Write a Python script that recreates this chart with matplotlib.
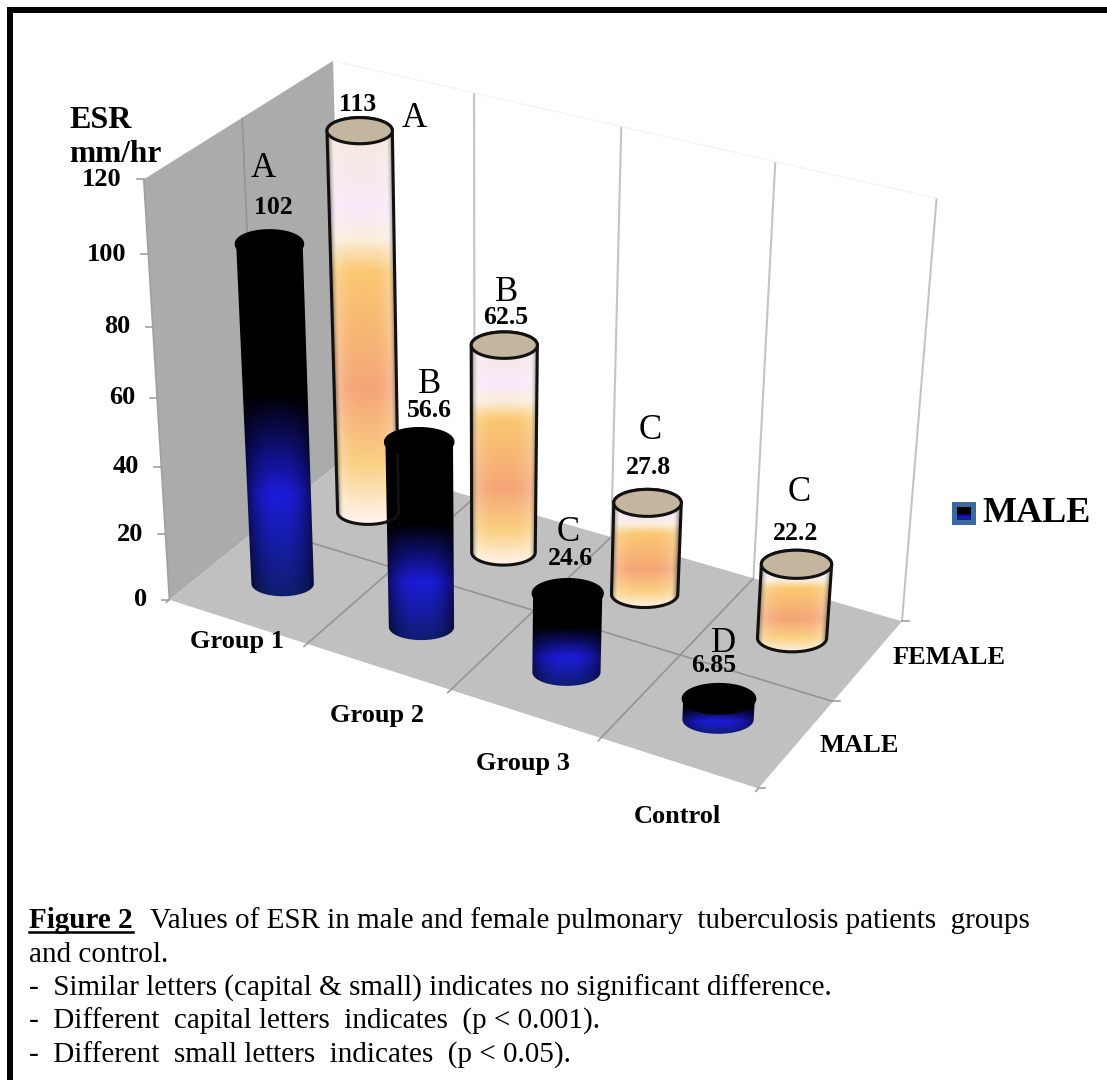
import numpy as np
import matplotlib
matplotlib.use('Agg')
import matplotlib.pyplot as plt
from matplotlib.path import Path
from matplotlib.patches import PathPatch, Polygon, Rectangle

plt.rcParams['font.family'] = ['Liberation Serif', 'DejaVu Serif']

## data

groups = ['Group 1', 'Group 2', 'Group 3', 'Control']
series = ['MALE', 'FEMALE']
male = [102, 56.6, 24.6, 6.85]
female = [113, 62.5, 27.8, 22.2]
male_labels = ['102', '56.6', '24.6', '6.85']
female_labels = ['113', '62.5', '27.8', '22.2']
male_letters = ['A', 'B', 'C', 'D']
female_letters = ['A', 'B', 'C', 'C']
yticks = [0, 20, 40, 60, 80, 100, 120]
notes = ['and control.',
         '-  Similar letters (capital & small) indicates no significant difference.',
         '-  Different  capital letters  indicates  (p < 0.001).',
         '-  Different  small letters  indicates  (p < 0.05).']

## layout: the box corners as seen in the picture (cat, ser, value) -> pixel, weight

anchors = [((0, 0, 0), (172, 597), 4), ((0, 0, 120), (140, 180), 3),
           ((0, 2, 120), (335, 60), 5), ((0, 2, 0), (338, 465), 3),
           ((4, 2, 0), (904, 616), 3), ((4, 2, 120), (935, 200), 3),
           ((4, 0, 0), (757, 792), 3), ((1, 0, 0), (307, 655), 1),
           ((3, 0, 0), (600, 740), 1), ((1, 2, 120), (473, 91), 1),
           ((3, 2, 120), (773, 165), 1), ((4, 1, 0), (842, 699), 1),
           ((0, 0, 60), (155, 396), 1)]


def fit_camera(pts):
    A, b = [], []
    for (c, s, v), (u, w), k in pts:
        z = v/120.
        A.append([k*x for x in [c, s, z, 1, 0, 0, 0, 0, -u*c, -u*s, -u*z]])
        A.append([k*x for x in [0, 0, 0, 0, c, s, z, 1, -w*c, -w*s, -w*z]])
        b += [k*u, k*w]
    sol = np.linalg.lstsq(np.array(A, float), np.array(b, float), rcond=None)[0]
    return np.append(sol, 1).reshape(3, 4)


P = fit_camera(anchors)


def proj(c, s, v):
    h = P @ np.array([c, s, v/120., 1.])
    return h[:2]/h[2]


def quad(corners, **kw):
    ax.add_patch(Polygon([proj(*q) for q in corners], closed=True, **kw))


def line3(a, b, **kw):
    pa, pb = proj(*a), proj(*b)
    ax.plot([pa[0], pb[0]], [pa[1], pb[1]], solid_capstyle='butt', **kw)


def stops(t, pos, cols):
    cols = np.array(cols, float)/255.
    return np.stack([np.interp(t, pos, cols[:, i]) for i in range(3)], axis=-1)


def male_fill(t, u):
    col = stops(t, [0, .45, .72, 1],
                [(0, 0, 0), (0, 0, 0), (28, 28, 218), (15, 30, 110)])
    return col*(1 - .55*np.abs(u)[..., None]**2.5)


def female_fill(t, u):
    col = stops(t, [0, .23, .30, .38, .67, .85, 1],
                [(245, 232, 215), (248, 232, 248), (250, 238, 222), (250, 200, 112),
                 (245, 165, 118), (250, 208, 130), (255, 246, 242)])
    a = np.clip(np.abs(u), 0, 1)[..., None]
    col = col + (1 - col)*.4*a**3
    return col*(1 - .55*np.clip((a - .78)/.22, 0, 1)**2)


def cylinder(cat, ser, val, fill, cap, outline):
    base, top = proj(cat+.5, ser+.5, 0), proj(cat+.5, ser+.5, val)
    w0 = .23*abs(proj(cat+1, ser+.5, 0)[0] - proj(cat, ser+.5, 0)[0])
    w1 = .23*abs(proj(cat+1, ser+.5, val)[0] - proj(cat, ser+.5, val)[0])
    th = np.linspace(0, np.pi, 60)
    upper = np.c_[top[0] - w1*np.cos(th), top[1] - .4*w1*np.sin(th)]
    lower = np.c_[base[0] + w0*np.cos(th), base[1] + .4*w0*np.sin(th)]
    pts = np.r_[upper, lower, upper[:1]]
    body = PathPatch(Path(pts), facecolor='none', edgecolor='none', zorder=3)
    ax.add_patch(body)
    x0, x1 = pts[:, 0].min() - 2, pts[:, 0].max() + 2
    y0, y1 = pts[:, 1].min() - 2, pts[:, 1].max() + 2
    X, Y = np.meshgrid(np.linspace(x0, x1, 120), np.linspace(y0, y1, 300))
    t = np.clip((Y - top[1])/(base[1] - top[1]), 0, 1)
    cx = top[0] + (base[0] - top[0])*t
    wx = w1 + (w0 - w1)*t
    img = ax.imshow(fill(np.clip((Y - y0)/(y1 - y0), 0, 1), (X - cx)/wx),
                    extent=(x0, x1, y1, y0), aspect='auto', zorder=3,
                    interpolation='bilinear')
    img.set_clip_path(body)
    th2 = np.linspace(0, 2*np.pi, 120)
    ring = np.c_[top[0] + w1*np.cos(th2), top[1] + .4*w1*np.sin(th2)]
    ax.add_patch(Polygon(ring, closed=True, facecolor=cap,
                         edgecolor=outline if outline else cap, lw=2.2, zorder=3.2))
    if outline:
        ax.add_patch(PathPatch(Path(pts), facecolor='none', edgecolor=outline,
                               lw=2.2, zorder=3.1))


fig = plt.figure(figsize=(11.07, 10.8), dpi=100)
ax = fig.add_axes([0, 0, 1, 1])
ax.axis('off')

## border: left and top only in this crop
ax.add_patch(Rectangle((7, 7), 5.5, 1073, facecolor='k', edgecolor='none', zorder=10))
ax.add_patch(Rectangle((7, 7), 1100, 5.5, facecolor='k', edgecolor='none', zorder=10))

## walls and floor
quad([(0, 0, 0), (0, 2, 0), (0, 2, 120), (0, 0, 120)], facecolor='#ababab', edgecolor='none')
quad([(0, 0, 0), (4, 0, 0), (4, 2, 0), (0, 2, 0)], facecolor='#c0c0c0', edgecolor='none')

for i in range(1, 5):
    line3((i, 2, 0), (i, 2, 120), color='#c4c4c4', lw=1.5, zorder=1)
    line3((i-1, 2, 120), (i, 2, 120), color='#f4f4f4', lw=1, zorder=1)
for i in range(1, 4):
    line3((i, 0, 0), (i, 2, 0), color='#949494', lw=1.2, zorder=1)
line3((0, 1, 0), (4, 1, 0), color='#949494', lw=1.2, zorder=1)
line3((0, 1, 0), (0, 1, 120), color='#949494', lw=1.2, zorder=1)

## axis ticks and labels
line3((0, 0, 0), (0, 0, 120), color='#a0a0a0', lw=1.2, zorder=1)
for v in yticks:
    px, py = proj(0, 0, v)
    ax.plot([px-7, px], [py, py], color='#a0a0a0', lw=1.2)
    ax.text(px-22, py, str(v), ha='right', va='center', fontsize=19, fontweight='bold')
for i in range(5):
    line3((i, 0, 0), (i, -.04, 0), color='#a0a0a0', lw=1.2)
for i in range(3):
    px, py = proj(4, i, 0)
    ax.plot([px, px+7], [py, py], color='#a0a0a0', lw=1.2)

ax.text(69, 120, 'ESR', ha='left', va='center', fontsize=23, fontweight='bold')
ax.text(69, 155, 'mm/hr', ha='left', va='center', fontsize=22.5, fontweight='bold')

group_off = [(16, 6), (15, 34), (13, 35), (13, 38)]
for i, g in enumerate(groups):
    px, py = proj(i+.5, -.18, 0)
    ax.text(px+group_off[i][0], py+group_off[i][1], g, ha='center', va='center',
            fontsize=19, fontweight='bold')
ax.text(819, 745, series[0], ha='left', va='center', fontsize=19, fontweight='bold')
ax.text(893, 658, series[1], ha='left', va='center', fontsize=19, fontweight='bold')

## bars, back row first; the front row sits a little lower than the wall scale
for i, v in enumerate(female):
    cylinder(i, 1, v, female_fill, '#c4b59f', '#111111')
for i, v in enumerate(male):
    cylinder(i, 0, v*.975 - .5, male_fill, '#000000', None)

## labels relative to the top of each bar
male_off = [(4, -25, -6, -64), (10, -25, 10, -51), (3, -31, 0, -57), (-5, -31, 4, -53)]
female_off = [(-2, -26, 55, -12), (1, -28, 2, -53), (1, -35, 3, -72), (-1, -31, 3, -72)]
for vals, labs, lets, offs, row in [(male, male_labels, male_letters, male_off, 0),
                                    (female, female_labels, female_letters, female_off, 1)]:
    for i, v in enumerate(vals):
        px, py = proj(i+.5, row+.5, v)
        dx, dy, lx, ly = offs[i]
        ax.text(px+dx, py+dy, labs[i], ha='center', va='center', fontsize=18.5,
                fontweight='bold', zorder=5)
        ax.text(px+lx, py+ly, lets[i], ha='center', va='center', fontsize=25, zorder=5)

## legend
ax.add_patch(Rectangle((952, 502), 24, 23, facecolor='#3b6aa0', edgecolor='none', zorder=4))
Xl, Yl = np.meshgrid(np.linspace(0, 1, 4), np.linspace(0, 1, 40))
ax.imshow(stops(Yl, [0, .45, .8, 1], [(0, 0, 0), (0, 0, 0), (25, 25, 215), (15, 30, 110)]),
          extent=(957, 971, 520, 507), aspect='auto', zorder=5)
ax.text(982, 513, series[0], ha='left', va='center', fontsize=26, fontweight='bold')

ax.set_xlim(0, 1107)
ax.set_ylim(1080, 0)

## caption
fig.canvas.draw()
r = fig.canvas.get_renderer()
cap0 = ax.text(29, 928, 'Figure 2', ha='left', va='baseline', fontsize=21, fontweight='bold')
bb = cap0.get_window_extent(r)
ax.plot([bb.x0, bb.x1], [932, 932], color='k', lw=1.8)
ax.text(150, 928, 'Values of ESR in male and female pulmonary  tuberculosis patients  groups',
        ha='left', va='baseline', fontsize=21)
for k, s in enumerate(notes):
    ax.text(29, 962+k*33.4, s, ha='left', va='baseline', fontsize=21)

fig.savefig('out.png', dpi=100)
